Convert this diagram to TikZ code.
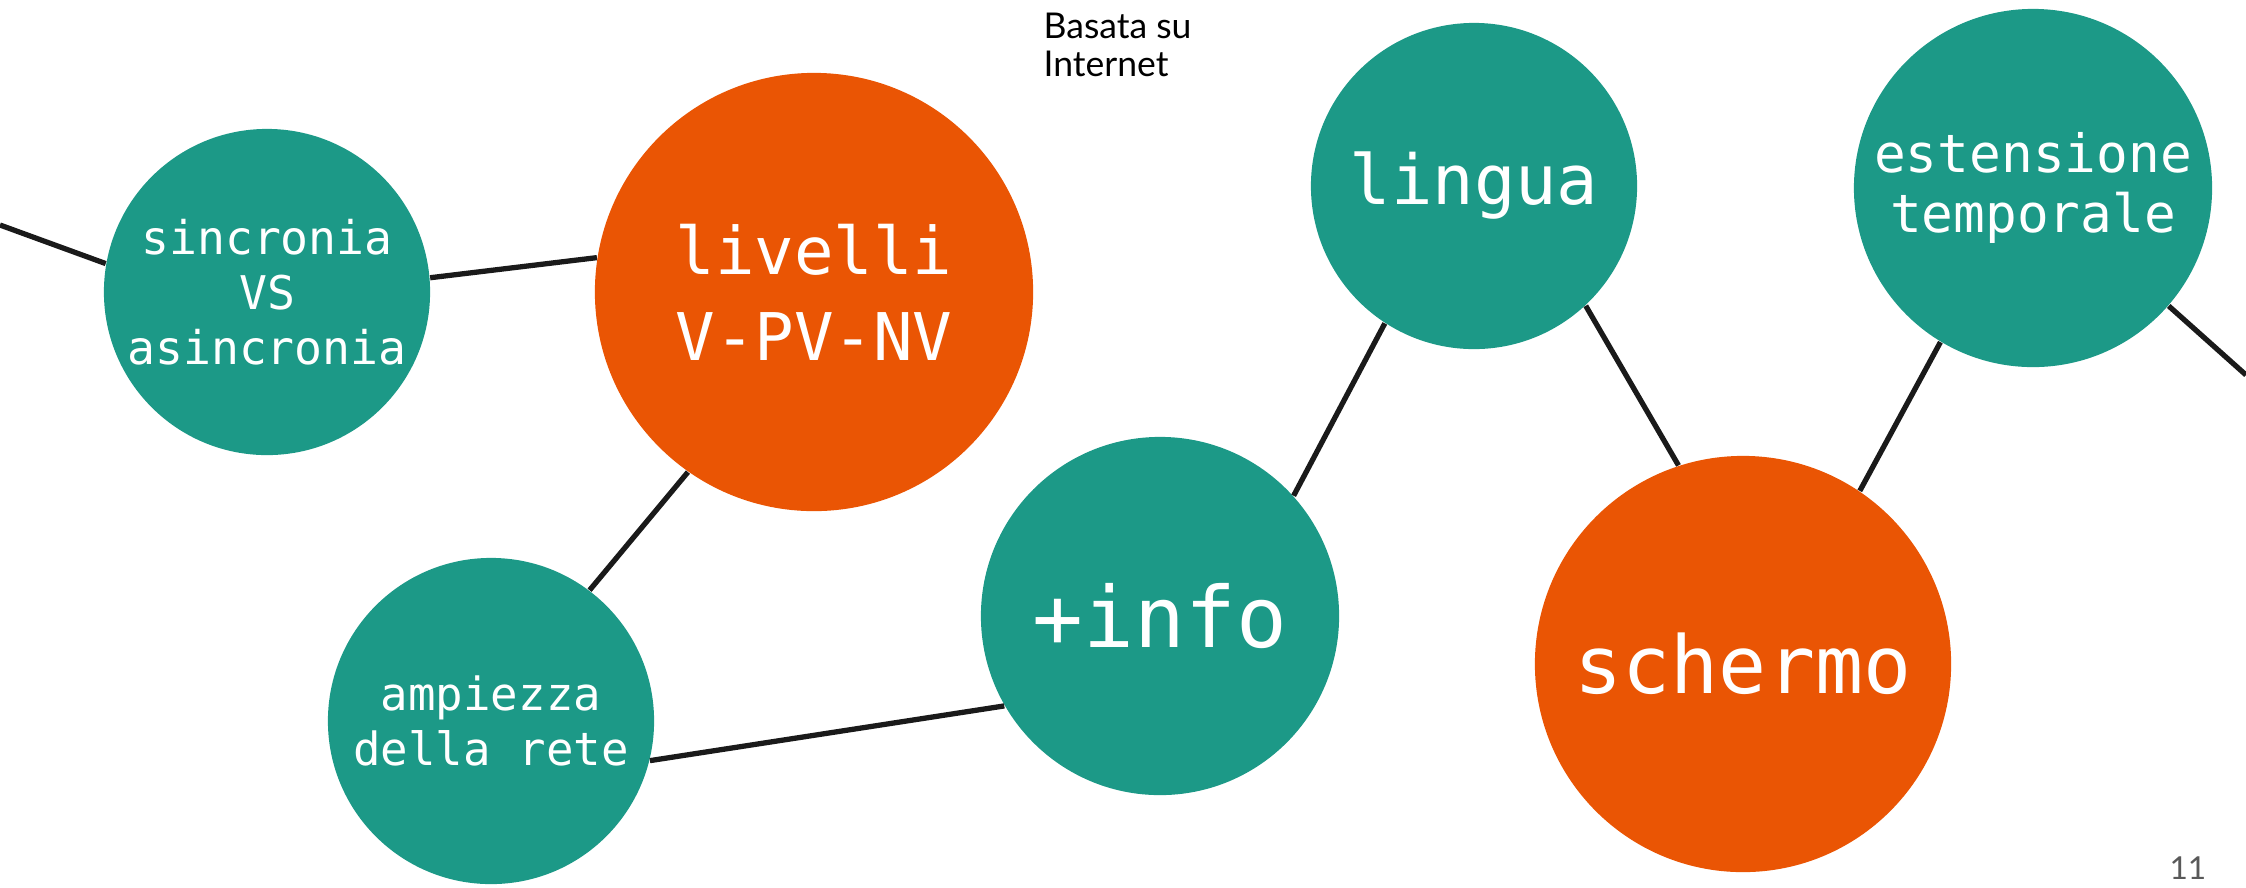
\documentclass[tikz,border=0pt]{standalone}
\usepackage{fontspec}
\setmainfont{Lato}
\setmonofont{DejaVu Sans Mono}
\definecolor{bubbleteal}{HTML}{1C9987}
\definecolor{bubbleorange}{HTML}{EA5504}
\definecolor{linkblack}{HTML}{1A1A1A}
\definecolor{pagegray}{HTML}{595959}
\newcommand{\connectbubble}[2]{%
  \draw[link] (#1) -- (#2)}

\begin{document}
\begin{tikzpicture}[x=0.01cm, y=-0.01cm,
    bubble/.style={circle, fill=bubbleteal, text=white, inner sep=0pt, align=center},
    hot/.style={bubble, fill=bubbleorange},
    link/.style={draw=linkblack, line width=1.5pt}]
  \useasboundingbox (0,0) rectangle (2246,887);

  \node[bubble, minimum size=3.26cm, font=\ttfamily\fontsize{13.2}{15.7}\selectfont] (sinc) at (267,292) {sincronia\\VS\\asincronia};
  \node[hot, minimum size=4.38cm, font=\ttfamily\fontsize{18.7}{24.4}\selectfont] (livelli) at (814,292) {livelli\\V-PV-NV};
  \node[bubble, minimum size=3.26cm, font=\ttfamily\fontsize{13}{15.5}\selectfont] (rete) at (491,721) {ampiezza\\della rete};
  \node[bubble, minimum size=3.58cm, font=\ttfamily\fontsize{24}{28}\selectfont] (info) at (1160,616) {+info};
  \node[bubble, minimum size=3.26cm, font=\ttfamily\fontsize{19.6}{23}\selectfont] (lingua) at (1474,186) {lingua};
  \node[hot, minimum size=4.16cm, font=\ttfamily\fontsize{22.7}{26}\selectfont] (schermo) at (1743,664) {schermo};
  \node[bubble, minimum size=3.58cm, font=\ttfamily\fontsize{15}{17}\selectfont] (tempo) at (2033,188) {estensione\\temporale};

  \node[anchor=north west, align=left, inner sep=0pt, font=\fontsize{10.1}{10.8}\selectfont] (web) at (1043,12) {Basata su\\Internet};
  \node[anchor=south east, inner sep=0pt, text=pagegray, font=\fontsize{9}{10}\selectfont] (pagenum) at (2207,880) {11};

  \coordinate (offleft) at (0,225);
  \coordinate (offright) at (2246,375);

  % the chain of bubbles
  \connectbubble{offleft}{sinc.170};
  \connectbubble{sinc.5}{livelli.171};
  \connectbubble{livelli.235}{rete.53};
  \connectbubble{rete.-14}{info.210};
  \connectbubble{info.42}{lingua.237};
  \connectbubble{lingua.-47}{schermo.108};
  \connectbubble{schermo.56}{tempo.239};
  \connectbubble{tempo.-41}{offright};
\end{tikzpicture}
\end{document}
